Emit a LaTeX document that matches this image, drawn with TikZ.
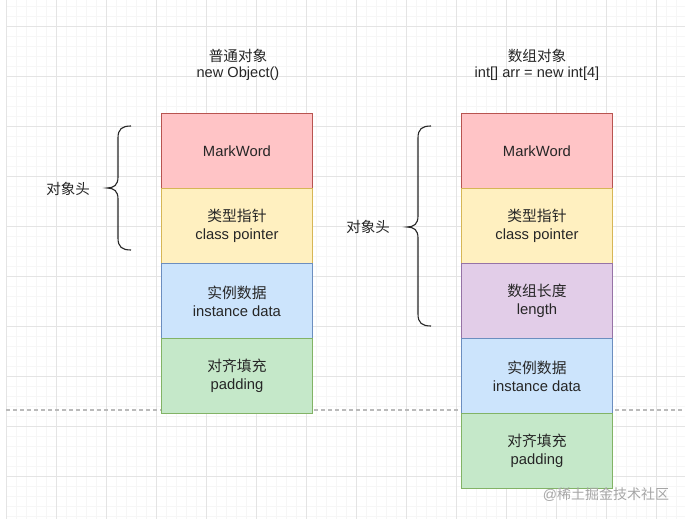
\documentclass[tikz,border=0pt]{standalone}
\usepackage{fontspec}
\setmainfont{Liberation Sans}
\newfontfamily\cjk{Noto Sans CJK SC}
\begin{document}
\begin{tikzpicture}[x=1pt,y=-1pt,
  cell/.style={draw, line width=0.9pt, rectangle, anchor=north west, minimum width=151pt, minimum height=75pt, inner sep=0pt, align=center, font=\fontsize{14.8}{18}\selectfont, text=black!85},
  redc/.style={cell, fill=redF, draw=redD},
  yelc/.style={cell, fill=yelF, draw=yelD},
  purc/.style={cell, fill=purF, draw=purD},
  bluc/.style={cell, fill=bluF, draw=bluD},
  grnc/.style={cell, fill=grnF, draw=grnD},
  ttl/.style={align=center, font=\fontsize{14.6}{16.5}\selectfont, text=black!85},
  lbl/.style={font=\fontsize{14.5}{16}\selectfont, text=black!85},
  brc/.style={draw=black!85, line width=1.1pt}
]
\definecolor{redF}{HTML}{FFC4C6}\definecolor{redD}{HTML}{B85450}
\definecolor{yelF}{HTML}{FFF0C0}\definecolor{yelD}{HTML}{D6B656}
\definecolor{purF}{HTML}{E2CDE8}\definecolor{purD}{HTML}{9673A6}
\definecolor{bluF}{HTML}{CCE4FC}\definecolor{bluD}{HTML}{6C8EBF}
\definecolor{grnF}{HTML}{C5E8C9}\definecolor{grnD}{HTML}{82B366}
\definecolor{gridmin}{HTML}{F6F6F6}\definecolor{gridmaj}{HTML}{E4E4E4}
\useasboundingbox[fill=white] (0,0) rectangle (685,519);
% grid
\foreach \x in {16,26,...,685} \draw[gridmin, line width=0.6pt] (\x,0) -- (\x,519);
\foreach \y in {6,16,...,519} \draw[gridmin, line width=0.6pt] (6,\y) -- (685,\y);
\foreach \x in {6,56,...,656} \draw[gridmaj, line width=0.9pt] (\x,0) -- (\x,519);
\foreach \y in {26,76,...,476} \draw[gridmaj, line width=0.9pt] (6,\y) -- (685,\y);
% dashed line
\draw[black!27, line width=1.2pt, dash pattern=on 4pt off 3pt] (6,410) -- (685,410);
% titles
\node[ttl] (t1) at (238,65) {{\cjk 普通对象}\\new Object()};
\node[ttl] (t2) at (537,65) {{\cjk 数组对象}\\int[] arr = new int[4]};
% left column
\node[redc] (a1) at (161,113) {MarkWord};
\node[yelc] (a2) at (161,188) {{\cjk 类型指针}\\class pointer};
\node[bluc] (a3) at (161,263) {{\cjk 实例数据}\\instance data};
\node[grnc] (a4) at (161,338) {{\cjk 对齐填充}\\padding};
% right column
\node[redc] (b1) at (461,113) {MarkWord};
\node[yelc] (b2) at (461,188) {{\cjk 类型指针}\\class pointer};
\node[purc] (b3) at (461,263) {{\cjk 数组长度}\\length};
\node[bluc] (b4) at (461,338) {{\cjk 实例数据}\\instance data};
\node[grnc] (b5) at (461,413) {{\cjk 对齐填充}\\padding};
% braces
\draw[brc] (131,126) .. controls (122,126) and (118,129) .. (118,138) -- (118,177)
  .. controls (118,185) and (114,188) .. (107,188) .. controls (114,188) and (118,191) .. (118,199)
  -- (118,238) .. controls (118,247) and (122,250) .. (131,250);
\draw[brc] (431,126) .. controls (422,126) and (418,129) .. (418,138) -- (418,216)
  .. controls (418,224) and (414,227) .. (407,227) .. controls (414,227) and (418,230) .. (418,238)
  -- (418,314) .. controls (418,323) and (422,326) .. (431,326);
\node[lbl] (h1) at (68,189) {\cjk 对象头};
\node[lbl] (h2) at (368,227) {\cjk 对象头};
% watermark
\node[font=\fontsize{14}{16}\selectfont, text=black!35, inner sep=0pt] (wm) at (606,495) {@{\cjk 稀土掘金技术社区}};
\end{tikzpicture}
\end{document}
